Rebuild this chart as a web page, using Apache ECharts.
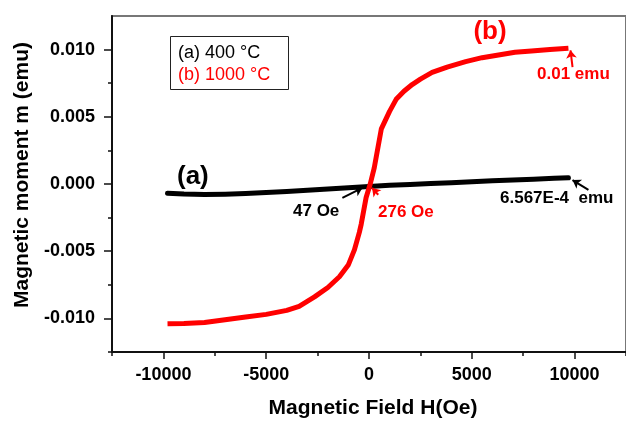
<!DOCTYPE html>
<html><head><meta charset="utf-8">
<script src="https://cdn.jsdelivr.net/npm/echarts@6/dist/echarts.min.js"></script>
<style>html,body{margin:0;padding:0;background:#fff}#c{width:626px;height:424px}</style>
</head><body><div id="c"></div>
<script>
// ---- data ----
const fieldA = [-9800,-9000,-8000,-7000,-6000,-5000,-4000,-3000,-2000,-1000,0,1000,2000,3000,4000,5000,6000,7000,8000,9000,9700];
const momentA = [-0.00068,-0.00075,-0.00078,-0.00076,-0.00071,-0.00064,-0.00056,-0.00047,-0.00038,-0.00028,-0.00018,-0.0001,-0.00003,0.00004,0.0001,0.00017,0.00024,0.0003,0.00036,0.00042,0.00046];
const fieldB = [-9800,-9000,-8000,-7000,-6000,-5000,-4000,-3400,-2650,-2000,-1440,-1000,-710,-470,-380,-140,60,255,600,1000,1320,1700,2100,2500,3070,3800,4700,5500,6300,7100,7900,8800,9700];
const momentB = [-0.0104,-0.01038,-0.0103,-0.0101,-0.0099,-0.0097,-0.0094,-0.0091,-0.0084,-0.0077,-0.0069,-0.0060,-0.0049,-0.0036,-0.003,-0.001,0,0.0012,0.0041,0.0054,0.0063,0.0069,0.0074,0.0078,0.0083,0.0087,0.0091,0.0094,0.0096,0.0098,0.0099,0.0100,0.0101];
const xMajor = [-10000,-5000,0,5000,10000];
const xMinor = [-12500,-7500,-2500,2500,7500,12500];
const yMajor = [-0.01,-0.005,0,0.005,0.01];
const yMinor = [-0.0125,-0.0075,-0.0025,0.0025,0.0075];
const legendA = '(a) 400 °C';
const legendB = '(b) 1000 °C';

const F = "'Liberation Sans', Arial, sans-serif";
const zip = (xs, ys) => xs.map((x, i) => [x, ys[i]]);
const chart = echarts.init(document.getElementById('c'), null, {renderer: 'canvas'});

const arrowML = (color, lines) => ({
  silent: true, animation: false,
  symbol: ['none', 'arrow'], symbolSize: 8,
  label: {show: false},
  lineStyle: {color: color, width: 2, type: 'solid'},
  data: lines.map(l => [{coord: l[0]}, {coord: l[1]}])
});

chart.setOption({
  animation: false,
  grid: {left: 112, top: 16, right: -2, bottom: 67, show: true, borderColor: '#777', borderWidth: 2, backgroundColor: 'transparent'},
  xAxis: [{
    type: 'value', min: -12500, max: 12500, position: 'bottom',
    axisLine: {show: true, onZero: false, lineStyle: {color: '#111', width: 2}},
    axisTick: {show: true, customValues: xMajor, length: 7, lineStyle: {color: '#111', width: 1.5}},
    axisLabel: {customValues: xMajor, formatter: v => String(v), color: '#000', fontFamily: F, fontWeight: 'bold', fontSize: 18, margin: 14},
    splitLine: {show: false},
    name: 'Magnetic Field H(Oe)', nameLocation: 'middle', nameGap: 46,
    nameTextStyle: {color: '#000', fontFamily: F, fontWeight: 'bold', fontSize: 21, padding: [0, 0, 0, 8]}
  }, {
    type: 'value', min: -12500, max: 12500, position: 'bottom',
    axisLine: {show: false, onZero: false},
    axisTick: {show: true, customValues: xMinor, length: 4, lineStyle: {color: '#111', width: 1.5}},
    axisLabel: {show: false}, splitLine: {show: false}
  }],
  yAxis: [{
    type: 'value', min: -0.0125, max: 0.0125, position: 'left',
    axisLine: {show: true, onZero: false, lineStyle: {color: '#111', width: 2}},
    axisTick: {show: true, customValues: yMajor, length: 8, lineStyle: {color: '#111', width: 1.5}},
    axisLabel: {customValues: yMajor, formatter: v => v.toFixed(3), color: '#000', fontFamily: F, fontWeight: 'bold', fontSize: 18, margin: 17},
    splitLine: {show: false}
  }, {
    type: 'value', min: -0.0125, max: 0.0125, position: 'left',
    axisLine: {show: false, onZero: false},
    axisTick: {show: true, customValues: yMinor, length: 4, lineStyle: {color: '#111', width: 1.5}},
    axisLabel: {show: false}, splitLine: {show: false}
  }],
  series: [{
    type: 'line', name: legendA, data: zip(fieldA, momentA), showSymbol: false, smooth: false,
    lineStyle: {color: '#000', width: 5, join: 'round', cap: 'round'}, itemStyle: {color: '#000'}, z: 3,
    markLine: arrowML('#000', [[[-1294, -0.00103], [-325, -0.00029]], [[10673, -0.00044], [9898, 0.00029]]])
  }, {
    type: 'line', name: legendB, data: zip(fieldB, momentB), showSymbol: false, smooth: false,
    lineStyle: {color: '#ff0000', width: 5, join: 'round'}, itemStyle: {color: '#ff0000'}, z: 4,
    markLine: arrowML('#ff0000', [[[9900, 0.0087], [9800, 0.00995]], [[450, -0.0008], [150, -0.0003]]])
  }],
  graphic: [
    {type: 'text', x: 22, y: 175, rotation: Math.PI / 2, style: {text: 'Magnetic moment m (emu)', font: 'bold 21px ' + F, fill: '#000', align: 'center', verticalAlign: 'middle'}},
    {type: 'rect', shape: {x: 170.5, y: 36.5, width: 118, height: 53}, style: {fill: '#fff', stroke: '#222', lineWidth: 1}, z: 10},
    {type: 'text', x: 178, y: 53, style: {text: legendA, font: '18px ' + F, fill: '#000', verticalAlign: 'middle'}, z: 11},
    {type: 'text', x: 178, y: 75, style: {text: legendB, font: '18px ' + F, fill: '#ff0000', verticalAlign: 'middle'}, z: 11},
    {type: 'text', x: 490, y: 32, style: {text: '(b)', font: 'bold 26px ' + F, fill: '#ff0000', align: 'center', verticalAlign: 'middle'}, z: 11},
    {type: 'text', x: 537, y: 74, style: {text: '0.01 emu', font: 'bold 17px ' + F, fill: '#ff0000', verticalAlign: 'middle'}, z: 11},
    {type: 'text', x: 177, y: 177, style: {text: '(a)', font: 'bold 26px ' + F, fill: '#000', verticalAlign: 'middle'}, z: 11},
    {type: 'text', x: 293, y: 211, style: {text: '47 Oe', font: 'bold 17px ' + F, fill: '#000', verticalAlign: 'middle'}, z: 11},
    {type: 'text', x: 378, y: 212, style: {text: '276 Oe', font: 'bold 17px ' + F, fill: '#ff0000', verticalAlign: 'middle'}, z: 11},
    {type: 'text', x: 500, y: 198, style: {text: '6.567E-4  emu', font: 'bold 17px ' + F, fill: '#000', verticalAlign: 'middle'}, z: 11}
  ]
});
</script></body></html>
